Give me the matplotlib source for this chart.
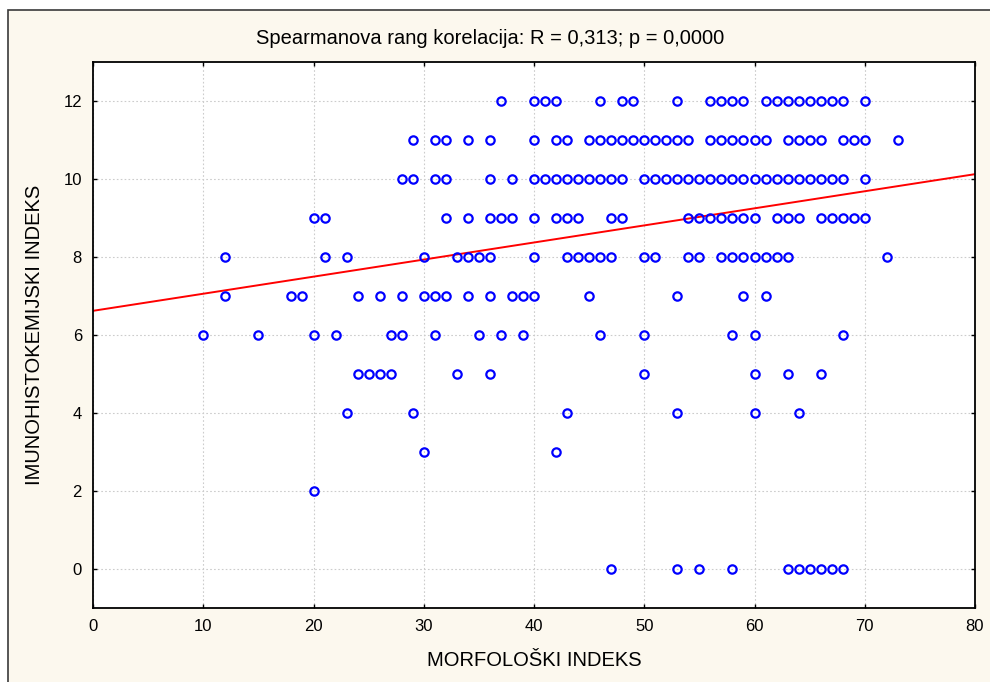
import numpy as np
import matplotlib.pyplot as plt
from matplotlib.patches import Rectangle

plt.rcParams['font.family'] = ['Liberation Sans', 'DejaVu Sans']

# morfološki indeks values for each immunohistochemical index level
x_12 = [37, 40, 41, 42, 46, 48, 49, 53, 56, 57, 58, 59, 61, 62, 63, 64, 65, 66, 67, 68, 70]
x_11 = [29, 31, 32, 34, 36, 40, 42, 43, 45, 46, 47, 48, 49, 50, 51, 52, 53, 54, 56, 57, 58,
        59, 60, 61, 63, 64, 65, 66, 68, 69, 70, 73]
x_10 = [28, 29, 31, 32, 36, 38, 40, 41, 42, 43, 44, 45, 46, 47, 48, 50, 51, 52, 53, 54, 55,
        56, 57, 58, 59, 60, 61, 62, 63, 64, 65, 66, 67, 68, 70]
x_9 = [20, 21, 32, 34, 36, 37, 38, 40, 42, 43, 44, 47, 48, 54, 55, 56, 57, 58, 59, 60, 62,
       63, 64, 66, 67, 68, 69, 70]
x_8 = [12, 21, 23, 30, 33, 34, 35, 36, 40, 43, 44, 45, 46, 47, 50, 51, 54, 55, 57, 58, 59,
       60, 61, 62, 63, 72]
x_7 = [12, 18, 19, 24, 26, 28, 30, 31, 32, 34, 36, 38, 39, 40, 45, 53, 59, 61]
x_6 = [10, 15, 20, 22, 27, 28, 31, 35, 37, 39, 46, 50, 58, 60, 68]
x_5 = [24, 25, 26, 27, 33, 36, 50, 60, 63, 66]
x_4 = [23, 29, 43, 53, 60, 64]
x_3 = [30, 42]
x_2 = [20]
x_0 = [47, 53, 55, 58, 63, 64, 65, 66, 67, 68]

rows = {12: x_12, 11: x_11, 10: x_10, 9: x_9, 8: x_8, 7: x_7,
        6: x_6, 5: x_5, 4: x_4, 3: x_3, 2: x_2, 0: x_0}

# regression line
fit_intercept = 6.62
fit_slope = 0.0438

title = "Spearmanova rang korelacija: R = 0,313; p = 0,0000"

xs = np.concatenate([np.array(v, dtype=float) for v in rows.values()])
ys = np.concatenate([np.full(len(v), k, dtype=float) for k, v in rows.items()])

fig = plt.figure(figsize=(9.9, 6.82), dpi=100, facecolor='white')
# cream panel with a border on the left and top
fig.patches.append(Rectangle((8 / 990, -0.01), 1.0, 1 - 10 / 682 + 0.01,
                             transform=fig.transFigure, facecolor='#fcf8ee',
                             edgecolor='#3a3a3a', linewidth=1.2, zorder=-5))

ax = fig.add_axes([93 / 990, 1 - 608 / 682, (975 - 93) / 990, (608 - 62) / 682])
ax.set_facecolor('white')

ax.grid(True, color='#cccccc', linestyle=(0, (1.5, 2)), linewidth=0.8)
ax.set_axisbelow(True)

line_x = np.array([0, 80])
ax.plot(line_x, fit_intercept + fit_slope * line_x, color='red', linewidth=1.4, zorder=2)

ax.plot(xs, ys, linestyle='none', marker='o', markersize=6, markerfacecolor='none',
        markeredgecolor='#0000ff', markeredgewidth=1.6, zorder=3)

ax.set_xlim(0, 80)
ax.set_ylim(-1, 13)
ax.set_xticks(np.arange(0, 81, 10))
ax.set_yticks(np.arange(0, 13, 2))
ax.tick_params(direction='in', length=3, width=1, top=True, right=True,
               labelsize=12, pad=8, colors='black')
for s in ax.spines.values():
    s.set_linewidth(1.3)

ax.set_xlabel("MORFOLOŠKI INDEKS", fontsize=14.5, labelpad=12)
ax.set_ylabel("IMUNOHISTOKEMIJSKI INDEKS", fontsize=14.5, labelpad=14)
fig.text(490 / 990, 1 - 38 / 682, title, ha='center', va='center', fontsize=14.5)

fig.savefig("out.png", dpi=100, facecolor=fig.get_facecolor())
